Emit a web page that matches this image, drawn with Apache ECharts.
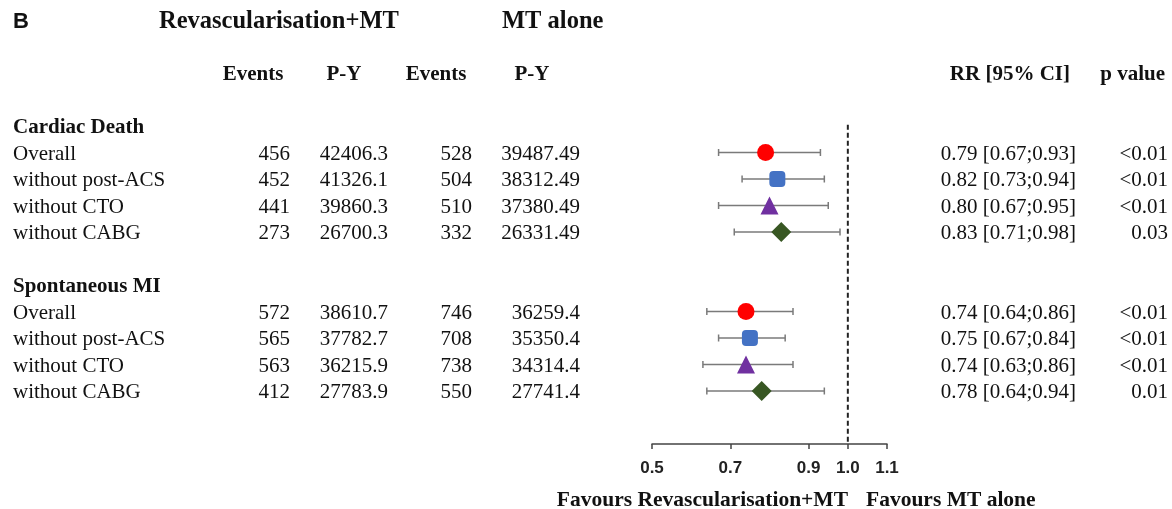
<!DOCTYPE html>
<html>
<head>
<meta charset="utf-8">
<script src="https://cdn.jsdelivr.net/npm/echarts@6/dist/echarts.min.js"></script>
<style>
  html, body { margin: 0; padding: 0; background: #fff; }
  #chart { width: 1172px; height: 509px; }
</style>
</head>
<body>
<div id="chart"></div>
<script>
// values
const groups = ['Cardiac Death', 'Spontaneous MI'];
const subgroups = ['Overall', 'without post-ACS', 'without CTO', 'without CABG'];
const revEvents = [456, 452, 441, 273, 572, 565, 563, 412];
const revPY = ['42406.3', '41326.1', '39860.3', '26700.3', '38610.7', '37782.7', '36215.9', '27783.9'];
const mtEvents = [528, 504, 510, 332, 746, 708, 738, 550];
const mtPY = ['39487.49', '38312.49', '37380.49', '26331.49', '36259.4', '35350.4', '34314.4', '27741.4'];
const rr = [0.79, 0.82, 0.80, 0.83, 0.74, 0.75, 0.74, 0.78];
const lower = [0.67, 0.73, 0.67, 0.71, 0.64, 0.67, 0.63, 0.64];
const upper = [0.93, 0.94, 0.95, 0.98, 0.86, 0.84, 0.86, 0.94];
const pValues = ['<0.01', '<0.01', '<0.01', '0.03', '<0.01', '<0.01', '<0.01', '0.01'];
const axisTicks = [0.5, 0.7, 0.9, 1.0, 1.1];

const symbols = ['circle', 'roundRect', 'triangle', 'diamond'];
const symbolSizes = [17, 16, 18, 20];
const colors = ['#ff0000', '#4472c4', '#7030a0', '#385723'];

// row index for each estimate: group header on row 0 and 6
const rowOf = i => (i < 4 ? i + 1 : i + 3);

const serif = '"Liberation Serif", "Times New Roman", serif';
const sans = '"Liberation Sans", Arial, sans-serif';

const myChart = echarts.init(document.getElementById('chart'));

const option = {
    animation: false,
    grid: { left: 652, right: 285, top: 99.5, bottom: 65 },
    xAxis: {
        type: 'value',
        position: 'bottom',
        min: 0.5,
        max: 1.1,
        interval: 0.1,
        splitLine: { show: false },
        axisLine: { show: true, onZero: false, lineStyle: { color: '#444', width: 1.5 } },
        axisTick: { show: true, length: 5, customValues: axisTicks, lineStyle: { color: '#444', width: 1.5 } },
        axisLabel: {
            customValues: axisTicks,
            margin: 16,
            fontFamily: sans,
            fontWeight: 'bold',
            fontSize: 17,
            color: '#222',
            formatter: v => v.toFixed(1)
        }
    },
    yAxis: { type: 'value', min: -1, max: 12, inverse: true, show: false },
    series: [
        {
            type: 'line',
            data: [[1.0, -0.05], [1.0, 12]],
            symbol: 'none',
            lineStyle: { color: '#222', width: 2, type: [5, 3] },
            z: 1
        },
        {
            type: 'custom',
            data: rr.map((v, i) => [lower[i], upper[i], rowOf(i)]),
            encode: { x: [0, 1], y: 2 },
            renderItem: (params, api) => {
                const a = api.coord([api.value(0), api.value(2)]);
                const b = api.coord([api.value(1), api.value(2)]);
                const st = { stroke: '#7a7a7a', lineWidth: 1.5 };
                return {
                    type: 'group',
                    children: [
                        { type: 'line', shape: { x1: a[0], y1: a[1], x2: b[0], y2: b[1] }, style: st },
                        { type: 'line', shape: { x1: a[0], y1: a[1] - 3.5, x2: a[0], y2: a[1] + 3.5 }, style: st },
                        { type: 'line', shape: { x1: b[0], y1: b[1] - 3.5, x2: b[0], y2: b[1] + 3.5 }, style: st }
                    ]
                };
            },
            z: 2
        },
        {
            type: 'scatter',
            data: rr.map((v, i) => ({
                value: [v, rowOf(i)],
                symbol: symbols[i % 4],
                symbolSize: symbolSizes[i % 4],
                itemStyle: { color: colors[i % 4], opacity: 1 }
            })),
            z: 3
        }
    ]
};
myChart.setOption(option);

const yPix = r => myChart.convertToPixel({ yAxisIndex: 0 }, r);
const txt = (x, y, text, opts) => ({
    type: 'text',
    x: x,
    y: y,
    style: Object.assign({
        text: text,
        fontFamily: serif,
        fontSize: 21,
        fill: '#111',
        align: 'left',
        verticalAlign: 'middle'
    }, opts || {})
});

const graphic = [];
// titles
graphic.push(txt(13, 22, 'B', { fontFamily: sans, fontWeight: 'bold', fontSize: 22 }));
graphic.push(txt(159, 22, 'Revascularisation+MT', { fontWeight: 'bold', fontSize: 24.5 }));
graphic.push(txt(502, 22, 'MT alone', { fontWeight: 'bold', fontSize: 24.5 }));
// column headers
const hy = 75;
graphic.push(txt(253, hy, 'Events', { fontWeight: 'bold', align: 'center' }));
graphic.push(txt(344, hy, 'P-Y', { fontWeight: 'bold', align: 'center' }));
graphic.push(txt(436, hy, 'Events', { fontWeight: 'bold', align: 'center' }));
graphic.push(txt(532, hy, 'P-Y', { fontWeight: 'bold', align: 'center' }));
graphic.push(txt(1070, hy, 'RR [95% CI]', { fontWeight: 'bold', align: 'right' }));
graphic.push(txt(1165, hy, 'p value', { fontWeight: 'bold', align: 'right' }));

groups.forEach((g, gi) => {
    graphic.push(txt(13, yPix(gi * 6) + 2, g, { fontWeight: 'bold' }));
});
rr.forEach((v, i) => {
    const y = yPix(rowOf(i)) + 1.5;
    graphic.push(txt(13, y, subgroups[i % 4]));
    graphic.push(txt(290, y, String(revEvents[i]), { align: 'right' }));
    graphic.push(txt(388, y, revPY[i], { align: 'right' }));
    graphic.push(txt(472, y, String(mtEvents[i]), { align: 'right' }));
    graphic.push(txt(580, y, mtPY[i], { align: 'right' }));
    graphic.push(txt(1076, y, v.toFixed(2) + ' [' + lower[i].toFixed(2) + ';' + upper[i].toFixed(2) + ']', { align: 'right' }));
    graphic.push(txt(1168, y, pValues[i], { align: 'right' }));
});
// favours labels
graphic.push(txt(848, 500, 'Favours Revascularisation+MT', { fontWeight: 'bold', fontSize: 21.5, align: 'right' }));
graphic.push(txt(866, 500, 'Favours MT alone', { fontWeight: 'bold', fontSize: 21.5 }));

myChart.setOption({ graphic: graphic });
</script>
</body>
</html>
